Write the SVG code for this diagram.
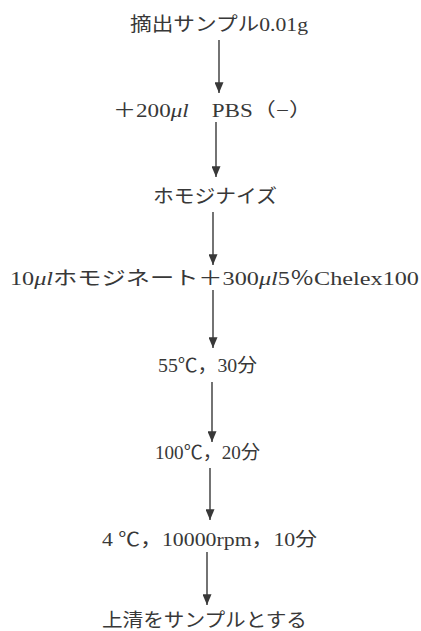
<svg xmlns="http://www.w3.org/2000/svg" width="421" height="631" viewBox="0 0 421 631">
<defs>
<style>
text{font-family:"Liberation Serif","Noto Sans CJK JP",serif;font-size:19px;fill:#383838;}
.it{font-style:italic;}
.c line{stroke:#383838;stroke-width:1.4;}
</style>
<marker id="ah" viewBox="0 0 12 10" refX="12" refY="5" markerWidth="11" markerHeight="9" markerUnits="userSpaceOnUse" orient="auto">
<path d="M0,0 L12,5 L0,10 Z" fill="#383838"/>
</marker>
</defs>
<rect width="421" height="631" fill="#fff"/>
<g id="n1"><text x="130" y="31" textLength="178" lengthAdjust="spacingAndGlyphs">摘出サンプル0.01g</text></g>
<g id="n2"><text x="113" y="117" textLength="199" lengthAdjust="spacingAndGlyphs">＋200<tspan class="it">μl</tspan>　PBS（−）</text></g>
<g id="n3"><text x="153" y="203" textLength="124" lengthAdjust="spacingAndGlyphs">ホモジナイズ</text></g>
<g id="n4"><text x="10" y="285" textLength="409" lengthAdjust="spacingAndGlyphs">10<tspan class="it">μl</tspan>ホモジネート＋300<tspan class="it">μl</tspan>5％Chelex100</text></g>
<g id="n5"><text x="158" y="372" textLength="99" lengthAdjust="spacingAndGlyphs">55℃，30分</text></g>
<g id="n6"><text x="155" y="459" textLength="105" lengthAdjust="spacingAndGlyphs">100℃，20分</text></g>
<g id="n7"><text x="102" y="546" textLength="215" lengthAdjust="spacingAndGlyphs">4 ℃，10000rpm，10分</text></g>
<g id="n8"><text x="102" y="627" textLength="205" lengthAdjust="spacingAndGlyphs">上清をサンプルとする</text></g>
<g id="connectors" class="c">
<line x1="219" y1="40" x2="219" y2="93" marker-end="url(#ah)"/>
<line x1="216" y1="122" x2="216" y2="177" marker-end="url(#ah)"/>
<line x1="213" y1="212" x2="213" y2="265" marker-end="url(#ah)"/>
<line x1="213" y1="290" x2="213" y2="348" marker-end="url(#ah)"/>
<line x1="212" y1="382" x2="212" y2="442" marker-end="url(#ah)"/>
<line x1="210" y1="468" x2="210" y2="520" marker-end="url(#ah)"/>
<line x1="207" y1="552" x2="207" y2="605" marker-end="url(#ah)"/>
</g>
</svg>
